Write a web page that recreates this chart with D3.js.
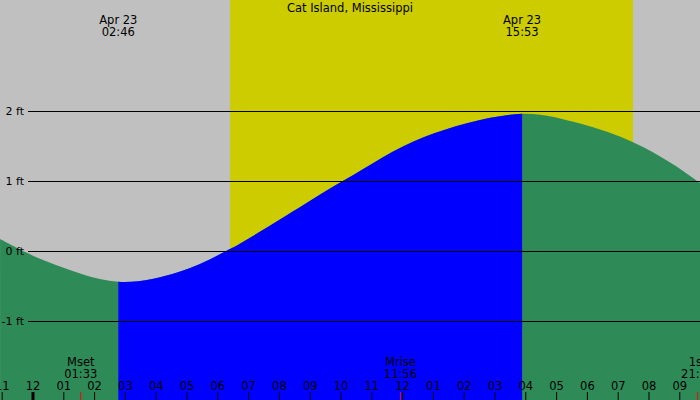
<!DOCTYPE html>
<html><head><meta charset="utf-8">
<script src="https://cdn.jsdelivr.net/npm/d3@7"></script>
<style>body{margin:0}svg{display:block;font-family:"DejaVu Sans",sans-serif}</style>
</head><body><svg id="c" width="700" height="400"></svg>
<script>
const title = "Cat Island, Mississippi";
// hours from Apr 23 00:00, tide height ft
const hours   = [-1.07, 0.39, 2.77, 4.73, 6.36, 8.2, 10.1, 12.7, 15.88, 17.76, 19.5, 20.7, 21.66];
const heights = [0.17, -0.14, -0.44, -0.30, 0.02, 0.50, 1.01, 1.63, 1.96, 1.82, 1.55, 1.26, 0.97];
const yTicks = [-1, 0, 1, 2];
const tideEvents = [{t: 2.77, date: "Apr 23", label: "02:46", type: "low"}, {t: 15.88, date: "Apr 23", label: "15:53", type: "high"}];
const sunrise = 6.4, sunset = 19.48;
const moonEvents = [{t: 1.55, name: "Mset", label: "01:33"}, {t: 11.93, name: "Mrise", label: "11:56"}, {t: 21.58, name: "1st", label: "21:35"}];
const hourTicks = d3.range(-1, 22);

const svg = d3.select("#c");
const x = d3.scaleLinear().domain([-1.0714, 21.656]).range([0, 700]);
const y = d3.scaleLinear().domain([0, 2]).range([251, 111]);

svg.append("rect").attr("width",700).attr("height",400).attr("fill","#c0c0c0");
svg.append("rect").attr("x",x(sunrise)).attr("width",x(sunset)-x(sunrise)).attr("height",400).attr("fill","#cccc00");

const data = hours.map((h,i)=>({h, v: heights[i]}));
const area = d3.area().x(d=>x(d.h)).y0(400).y1(d=>y(d.v)).curve(d3.curveCatmullRom.alpha(0.5));
svg.append("path").attr("d", area(data)).attr("fill","#2e8b57");
svg.append("clipPath").attr("id","rise").append("rect")
  .attr("x", x(tideEvents[0].t)).attr("width", x(tideEvents[1].t)-x(tideEvents[0].t)).attr("y",0).attr("height",400);
svg.append("path").attr("d", area(data)).attr("fill","#0000ff").attr("clip-path","url(#rise)");

yTicks.forEach(t=>{
  svg.append("line").attr("x1",28).attr("x2",700).attr("y1",y(t)+0.5).attr("y2",y(t)+0.5).attr("stroke","#000");
  svg.append("text").attr("x",24).attr("y",y(t)+4).attr("text-anchor","end").attr("font-size",11).text(t+" ft");
});

const fs = 11.5;
svg.append("text").attr("x",350).attr("y",12).attr("text-anchor","middle").attr("font-size",fs).text(title);
tideEvents.forEach(e=>{
  svg.append("text").attr("x",x(e.t)).attr("y",24).attr("text-anchor","middle").attr("font-size",fs).text(e.date);
  svg.append("text").attr("x",x(e.t)).attr("y",36).attr("text-anchor","middle").attr("font-size",fs).text(e.label);
});
moonEvents.forEach(e=>{
  svg.append("text").attr("x",x(e.t)).attr("y",366).attr("text-anchor","middle").attr("font-size",fs).text(e.name);
  svg.append("text").attr("x",x(e.t)).attr("y",378).attr("text-anchor","middle").attr("font-size",fs).text(e.label);
  svg.append("line").attr("x1",x(e.t)).attr("x2",x(e.t)).attr("y1",392).attr("y2",400).attr("stroke","#ff0000");
});
hourTicks.forEach(h=>{
  const hh = ((h%24)+24)%24, lbl = hh%12===0 ? 12 : hh%12;
  svg.append("text").attr("x",x(h)).attr("y",390).attr("text-anchor","middle").attr("font-size",fs).text(String(lbl).padStart(2,"0"));
  svg.append("line").attr("x1",x(h)).attr("x2",x(h)).attr("y1",392).attr("y2",400).attr("stroke","#000").attr("stroke-width", hh===0?3:1);
});
</script></body></html>
